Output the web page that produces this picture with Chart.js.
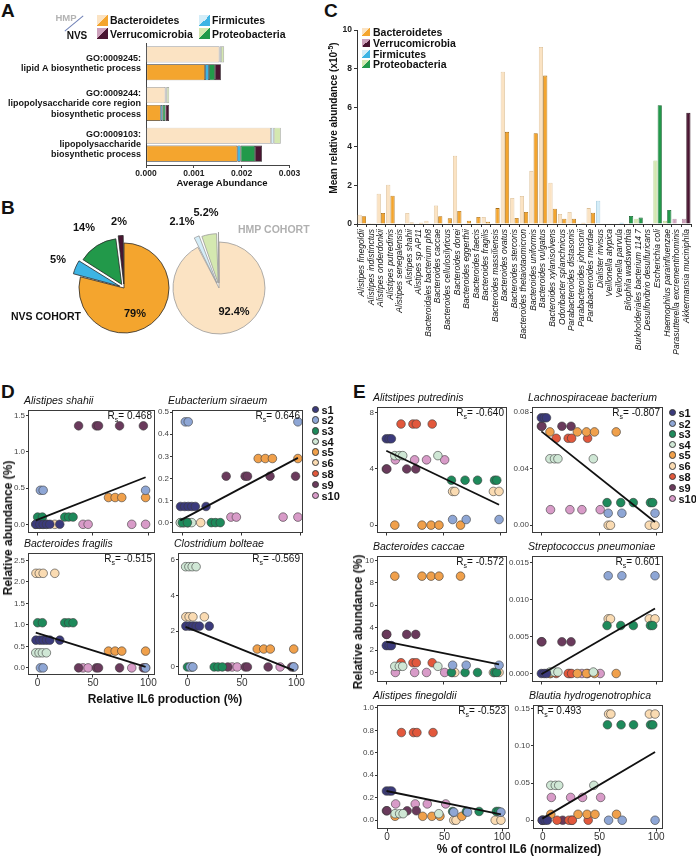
<!DOCTYPE html>
<html><head><meta charset="utf-8">
<script src="https://cdn.jsdelivr.net/npm/chart.js@4.4.1/dist/chart.umd.min.js"></script>
<style>
html,body{margin:0;padding:0;background:#fff;}
#root{position:relative;width:696px;height:856px;overflow:hidden;background:#fff;font-family:"Liberation Sans",Arial,Helvetica,sans-serif;color:#111;}
#root canvas{position:absolute;}
.t{position:absolute;white-space:nowrap;line-height:1;}
.sw{position:absolute;}
</style></head><body><div id="root"></div>
<script>
// ================= DATA =================
// ---- Panel A : GO term abundance (segment sizes, stacked) ----
const goTerms = [["GO:0009245:","lipid A biosynthetic process"],["GO:0009244:","lipopolysaccharide core region","biosynthetic process"],["GO:0009103:","lipopolysaccharide","biosynthetic process"]];
const phyla = ["Bacteroidetes","Firmicutes","Proteobacteria","Verrucomicrobia"];
const hmpBacteroidetes   = [0.001533, 0.000404, 0.002613];
const hmpFirmicutes      = [0.000035, 0.000030, 0.000060];
const hmpProteobacteria  = [0.000063, 0.000050, 0.000146];
const hmpVerrucomicrobia = [0.000004, 0.000003, 0.000005];
const nvsBacteroidetes   = [0.001234, 0.000307, 0.001909];
const nvsFirmicutes      = [0.000083, 0.000040, 0.000070];
const nvsProteobacteria  = [0.000125, 0.000060, 0.000300];
const nvsVerrucomicrobia = [0.000125, 0.000077, 0.000146];
const abundanceTicks = ["0.000","0.001","0.002","0.003"];

// ---- Panel B : phylum shares (%) ----
const nvsShare = [79, 5, 14, 2];
const hmpShare = [92.4, 2.1, 5.2, 0.3];

// ---- Panel C : mean relative abundance (x10^-5) ----
const species = ["Alistipes finegoldii","Alistipes indistinctus","Alistipes onderdonkii","Alistipes putredinis","Alistipes senegalensis","Alistipes shahii","Alistipes sp AP11","Bacteroidales bacterium ph8","Bacteroides caccae","Bacteroides cellulosilyticus","Bacteroides dorei","Bacteroides eggerthii","Bacteroides faecis","Bacteroides fragilis","Bacteroides massiliensis","Bacteroides ovatus","Bacteroides stercoris","Bacteroides thetaiotaomicron","Bacteroides uniformis","Bacteroides vulgatus","Bacteroides xylanisolvens","Odoribacter splanchnicus","Parabacteroides distasonis","Parabacteroides johnsonii","Parabacteroides merdae","Dialister invisus","Veillonella atypica","Veillonella parvula","Bilophila wadsworthia","Burkholderiales bacterium 114 7","Desulfovibrio desulfuricans","Escherichia coli","Haemophilus parainfluenzae","Parasutterella excrementihominis","Akkermansia muciniphila"];
const speciesColorGroup = ["Bacteroidetes","Bacteroidetes","Bacteroidetes","Bacteroidetes","Bacteroidetes","Bacteroidetes","Bacteroidetes","Bacteroidetes","Bacteroidetes","Bacteroidetes","Bacteroidetes","Bacteroidetes","Bacteroidetes","Bacteroidetes","Bacteroidetes","Bacteroidetes","Bacteroidetes","Bacteroidetes","Bacteroidetes","Bacteroidetes","Bacteroidetes","Bacteroidetes","Bacteroidetes","Bacteroidetes","Bacteroidetes","Firmicutes","Firmicutes","Firmicutes","Proteobacteria","Proteobacteria","Proteobacteria","Proteobacteria","Proteobacteria","Verrucomicrobia","Verrucomicrobia"];
const hmpMean = [0.48,0.05,1.56,2.02,0.02,0.57,0.00,0.17,0.96,0.00,3.52,0.00,0.00,0.36,0.00,7.85,1.34,1.44,2.74,9.13,2.13,0.52,0.62,0.00,0.82,1.20,0.00,0.03,0.00,0.27,0.00,3.27,0.17,0.27,0.27];
const nvsMean = [0.40,0.04,0.57,1.46,0.03,0.08,0.07,0.03,0.40,0.29,0.67,0.17,0.36,0.12,0.82,4.75,0.31,0.62,4.68,7.65,0.79,0.27,0.27,0.07,0.58,0.00,0.00,0.07,0.41,0.33,0.00,6.12,0.72,0.00,5.73];
const meanTicks = ["0","2","4","6","8","10"];

// ---- Panels D / E : per-sample points ----
const samples = ["s1","s2","s3","s4","s5","s6","s8","s9","s10"];
const sampleColors = ["#3b3a7c","#8ea6d5","#1e8a5b","#cfe7d5","#f0a04b","#fadbb2","#e2583c","#6a3a5c","#d89bc8"];
const xTicks = ["0","50","100"];
// relative IL6 production (%) for each sample's fractions, panel D
const xD = [[-1.5,2,5,8,11,20],[2.5,5,97.5],[0,4.3,24.5,28,32],[-1.7,1.3,4.3,7.9],[64,70,76,97.5],[-1.5,1.5,5,15.5],[],[37,53,55,74,95.5],[41,45.6,85,97.5]];
// % of control IL6 (normalized), panel E
const xE = [[-0.5,2,4],[58,70,99],[57,69,80,95,97],[7,11,14,45],[7,31,39,46,65],[58,60,94,99],[12.5,23,26,40],[-0.5,0,17.5,25.5],[7.5,24.5,35,51]];
// relative abundance (%) per sample (order of `samples`)
const yShahii     = [0,0.47,0.10,0,0.37,0,null,1.36,0];
const ySiraeum    = [0.073,0.456,0,0,0.29,0,null,0.21,0.025];
const yFragilis   = [0.645,0,1.05,0.35,0.39,2.2,null,0,0];
const yBolteae    = [2.28,0,0,5.6,1.0,2.8,null,0,0];
const yPutredinis = [6.15,0.4,3.2,4.95,0,2.4,7.2,4.0,4.65];
const yLachno     = [0.076,0.0085,0.016,0.047,0.066,0,0.0615,0.07,0.011];
const yCaccae     = [2.4,0.65,0,0.55,8.6,0,0.87,3.4,0];
const yPneumo     = [0,0.01324,0.0065,0.0002,0,0.0074,0,0.0043,0];
const yFinegoldii = [0.26,0.072,0.078,0.058,0.035,0,0.78,0.084,0.145];
const yBlautia    = [0,0,0.1285,0.047,0.008,0.143,0,0,0.0307];
// fitted lines (endpoints)
const fitShahii     = [[-1.7,0.055],[97.5,0.65]];
const fitSiraeum    = [[-1.7,0.01],[97.5,0.293]];
const fitFragilis   = [[-1.7,0.82],[97.5,0.025]];
const fitBolteae    = [[-1.7,2.24],[97.5,-0.19]];
const fitPutredinis = [[-0.5,5.3],[99,1.45]];
const fitLachno     = [[-0.5,0.0664],[99,0.0023]];
const fitCaccae     = [[-0.5,2.76],[99,0.73]];
const fitPneumo     = [[-0.5,-0.0001],[99,0.0088]];
const fitFinegoldii = [[-0.5,0.26],[99,0.052]];
const fitBlautia    = [[-0.5,0.0022],[99,0.092]];
// y tick labels
const tkShahii = ["0.0","0.5","1.0","1.5"];
const tkSiraeum = ["0.0","0.1","0.2","0.3","0.4","0.5"];
const tkFragilis = ["0.0","0.5","1.0","1.5","2.0","2.5"];
const tkBolteae = ["0","2","4","6"];
const tkPutredinis = ["0","4","8"];
const tkLachno = ["0.00","0.04","0.08"];
const tkCaccae = ["0","2","4","6","8","10"];
const tkPneumo = ["0.000","0.005","0.010","0.015"];
const tkFinegoldii = ["0.0","0.2","0.4","0.6","0.8","1.0"];
const tkBlautia = ["0","0.05","0.10","0.15"];

// ================= STYLE =================
const FF = '"Liberation Sans", Arial, Helvetica, sans-serif';
Chart.defaults.font.family = FF;
Chart.defaults.color = '#222';
const dark = {Bacteroidetes:'#f4a52e', Firmicutes:'#3db4e4', Proteobacteria:'#22994a', Verrucomicrobia:'#4a1531'};
const light = {Bacteroidetes:'#fbe3c3', Firmicutes:'#d4edf8', Proteobacteria:'#d4e8b0', Verrucomicrobia:'#cda1bb'};
const darkB = {Bacteroidetes:'#a86d14', Firmicutes:'#1f6790', Proteobacteria:'#125f2c', Verrucomicrobia:'#2a0a1a'};
const lightB = {Bacteroidetes:'#dcbf96', Firmicutes:'#9cc6da', Proteobacteria:'#b2cd8a', Verrucomicrobia:'#b08aa0'};

const root = document.getElementById('root');
function txt(html, x, y, o = {}) {
  const d = document.createElement('div'); d.className = 't'; d.innerHTML = html;
  const a = o.a || 'c'; let tr = '';
  if (a === 'c') tr = 'translate(-50%,-50%)';
  else if (a === 'l') tr = 'translate(0,-50%)';
  else if (a === 'r') tr = 'translate(-100%,-50%)';
  if (o.rot) tr += ' rotate(' + o.rot + 'deg)';
  d.style.left = x + 'px'; d.style.top = y + 'px'; d.style.transform = tr;
  d.style.font = o.font || ('bold 11px ' + FF);
  if (o.color) d.style.color = o.color;
  root.appendChild(d); return d;
}
function box(x, y, w, h, css) { const d = document.createElement('div'); d.className = 'sw'; Object.assign(d.style, {left:x+'px', top:y+'px', width:w+'px', height:h+'px'}, css); root.appendChild(d); return d; }
function makeCanvas(l, t, w, h) { const c = document.createElement('canvas'); c.width = w; c.height = h; c.style.left = l + 'px'; c.style.top = t + 'px'; c.style.width = w + 'px'; c.style.height = h + 'px'; root.appendChild(c); return c; }
function fix(size, isY) { return s => { if (isY) s.width = size; else s.height = size; s.paddingTop = 0; s.paddingBottom = 0; s.paddingLeft = 0; s.paddingRight = 0; }; }
function base(extra) { return Object.assign({responsive:false, maintainAspectRatio:false, animation:false, events:[], devicePixelRatio:1}, extra); }
const boxPlugin = {id:'box', afterDraw(ch, args, opts) { if (!opts || !opts.on) return; const a = ch.chartArea, c = ch.ctx; c.save(); c.strokeStyle = '#3a3a3a'; c.lineWidth = 1; c.strokeRect(Math.round(a.left) + 0.5, Math.round(a.top) + 0.5, Math.round(a.right - a.left) - 1, Math.round(a.bottom - a.top) - 1); c.restore(); }};

// ================= PANEL LETTERS =================
const LF = 'bold 19px ' + FF;
txt('A', 1, 0, {a:'lt', font:LF}); txt('B', 1, 197, {a:'lt', font:LF}); txt('C', 324, 0, {a:'lt', font:LF});
txt('D', 1, 381, {a:'lt', font:LF}); txt('E', 353, 381, {a:'lt', font:LF});

// ================= PANEL A =================
(function(){
  const cv = makeCanvas(0, 0, 300, 200);
  const hmp = [hmpBacteroidetes, hmpFirmicutes, hmpProteobacteria, hmpVerrucomicrobia];
  const nvs = [nvsBacteroidetes, nvsFirmicutes, nvsProteobacteria, nvsVerrucomicrobia];
  const ds = [];
  phyla.forEach((p, i) => ds.push({label:'HMP ' + p, data:hmp[i], stack:'HMP', backgroundColor:light[p], borderColor:'#9b9b9b', borderWidth:0.7, borderSkipped:false, categoryPercentage:0.88, barPercentage:0.9}));
  phyla.forEach((p, i) => ds.push({label:'NVS ' + p, data:nvs[i], stack:'NVS', backgroundColor:dark[p], borderColor:'#2a2a2a', borderWidth:0.7, borderSkipped:false, categoryPercentage:0.88, barPercentage:0.9}));
  const tv = abundanceTicks.map(Number);
  new Chart(cv, {type:'bar', data:{labels:goTerms, datasets:ds}, options: base({
    indexAxis:'y', layout:{padding:{top:43, right:10.5, left:0, bottom:0}},
    plugins:{legend:{display:false}, tooltip:{enabled:false}},
    scales:{
      x:{stacked:true, min:0, max:0.003, afterBuildTicks:s => { s.ticks = tv.map(v => ({value:v})); }, afterFit:fix(35, false),
         grid:{drawOnChartArea:false, drawTicks:true, tickLength:3, color:'#444'}, border:{display:true, color:'#444', width:1},
         ticks:{font:{size:8.5, weight:'bold'}, color:'#222', padding:1, maxRotation:0, callback:(v, i) => abundanceTicks[i]}},
      y:{stacked:true, afterFit:fix(146, true), grid:{display:false, drawTicks:false}, border:{display:true, color:'#444', width:1},
         ticks:{font:{size:9, weight:'bold', lineHeight:1.12}, color:'#151515', padding:5}}
    }})});
  txt('Average Abundance', 222, 182, {font:'bold 9.5px ' + FF});
  // legend
  txt('HMP', 66, 17, {font:'bold 9.5px ' + FF, color:'#b3b3b3'});
  box(62, 23, 24, 1, {background:'#6f80b6', transform:'rotate(-40deg)'});
  txt('NVS', 77, 35, {font:'bold 10px ' + FF});
  const lg = [['Bacteroidetes', 97, 20], ['Verrucomicrobia', 97, 33.5], ['Firmicutes', 199, 20], ['Proteobacteria', 199, 33.5]];
  lg.forEach(([p, x, y]) => {
    box(x, y - 5.5, 11, 11, {background:'linear-gradient(to bottom right,' + light[p] + ' 50%,' + dark[p] + ' 50%)'});
    txt(p, x + 13, y, {a:'l', font:'bold 10.5px ' + FF});
  });
})();

// ================= PANEL B =================
(function(){
  const mk = (cx, cy, r, vals, fills, bc, off) => {
    const cv = makeCanvas(cx - 75, cy - 75, 150, 150);
    new Chart(cv, {type:'pie', data:{labels:phyla, datasets:[{data:vals, backgroundColor:fills, borderColor:bc, borderWidth:0.8, offset:off}]},
      options: base({radius:r, layout:{padding:0}, plugins:{legend:{display:false}, tooltip:{enabled:false}}})});
  };
  mk(124, 288, 45, nvsShare, phyla.map(p => dark[p]), '#2a2a2a', [0, 18, 17, 16]);
  mk(219, 288, 46, hmpShare, phyla.map(p => light[p]), '#9a9a9a', [0, 21, 20, 20]);
  const f = 'bold 11px ' + FF;
  txt('14%', 84, 227, {font:f}); txt('2%', 119, 221, {font:f}); txt('5%', 58, 259, {font:f});
  txt('79%', 135, 313, {font:f}); txt('NVS COHORT', 46, 316, {font:'bold 10.5px ' + FF});
  txt('2.1%', 182, 221, {font:f}); txt('5.2%', 206, 212, {font:f});
  txt('92.4%', 234, 311, {font:f}); txt('HMP COHORT', 238, 229, {a:'l', font:'bold 10.5px ' + FF, color:'#b0b0b0'});
})();

// ================= PANEL C =================
(function(){
  const cv = makeCanvas(300, 0, 396, 380);
  const tv = meanTicks.map(Number);
  new Chart(cv, {type:'bar', data:{labels:species, datasets:[
      {label:'HMP', data:hmpMean, backgroundColor:speciesColorGroup.map(g => light[g]), borderColor:speciesColorGroup.map(g => lightB[g]), borderWidth:0.8, borderSkipped:'bottom', categoryPercentage:0.9, barPercentage:0.98},
      {label:'NVS', data:nvsMean, backgroundColor:speciesColorGroup.map(g => dark[g]), borderColor:speciesColorGroup.map(g => darkB[g]), borderWidth:0.8, borderSkipped:'bottom', categoryPercentage:0.9, barPercentage:0.98}]},
    options: base({layout:{padding:{top:30, right:5, left:0, bottom:0}}, plugins:{legend:{display:false}, tooltip:{enabled:false}},
      scales:{
        x:{afterFit:fix(156, false), grid:{drawOnChartArea:false, drawTicks:true, tickLength:3, color:'#333'}, border:{display:true, color:'#333', width:1},
           ticks:{autoSkip:false, minRotation:90, maxRotation:90, font:{size:8.5, style:'italic'}, color:'#111', padding:2}},
        y:{min:0, max:10, afterBuildTicks:s => { s.ticks = tv.map(v => ({value:v})); }, afterFit:fix(57, true),
           grid:{drawOnChartArea:false, drawTicks:true, tickLength:3, color:'#333'}, border:{display:true, color:'#333', width:1},
           ticks:{font:{size:8.5, weight:'bold'}, color:'#222', padding:2, callback:(v, i) => meanTicks[i]}}
      }})});
  txt('Mean relative abundance (x10<span style="font-size:7px;position:relative;top:-4px">-5</span>)', 333, 118, {rot:-90, font:'bold 10px ' + FF});
  const lg = [['Bacteroidetes', 32], ['Verrucomicrobia', 43], ['Firmicutes', 53.5], ['Proteobacteria', 64]];
  lg.forEach(([p, y]) => {
    box(362, y - 4, 8, 8, {background:'linear-gradient(to bottom right,' + light[p] + ' 50%,' + dark[p] + ' 50%)'});
    txt(p, 373, y, {a:'l', font:'bold 10.5px ' + FF});
  });
})();

// ================= PANELS D / E =================
function scatterPanel(p) {
  const [L, T, R, B] = p.box;
  const yW = 34, pt = 2, pr = 12, xH = p.xl ? 18 : 6;
  const cv = makeCanvas(L - yW, T - pt, (R - L) + yW + pr, (B - T) + pt + xH);
  const ds = [{data:p.fit.map(([x, y]) => ({x, y})), showLine:true, borderColor:'#111', borderWidth:1.8, pointRadius:0}];
  samples.forEach((s, i) => {
    if (p.ys[i] === null || !p.xs[i].length) return;
    ds.push({data:p.xs[i].map(x => ({x, y:p.ys[i]})), showLine:false, pointRadius:4.3, pointBackgroundColor:sampleColors[i], pointBorderColor:'#3a3a3a', pointBorderWidth:0.6});
  });
  const yv = p.tk.map(Number), xv = xTicks.map(Number);
  new Chart(cv, {type:'scatter', data:{datasets:ds}, plugins:[boxPlugin], options: base({
    layout:{padding:{top:pt, right:pr, left:0, bottom:0}},
    plugins:{legend:{display:false}, tooltip:{enabled:false}, box:{on:true}},
    scales:{
      x:{type:'linear', min:p.xr[0], max:p.xr[1], afterBuildTicks:s => { s.ticks = xv.map(v => ({value:v})); }, afterFit:fix(xH, false),
         grid:{drawOnChartArea:false, drawTicks:true, tickLength:2.5, color:'#333'}, border:{display:false},
         ticks:{font:{size:10}, color:'#333', padding:0, maxRotation:0, callback:(v, i) => p.xl ? xTicks[i] : ''}},
      y:{min:p.yr[0], max:p.yr[1], afterBuildTicks:s => { s.ticks = yv.map(v => ({value:v})); }, afterFit:fix(yW, true),
         grid:{drawOnChartArea:false, drawTicks:true, tickLength:2, color:'#333'}, border:{display:false},
         ticks:{font:{size:8}, color:'#444', padding:1, callback:(v, i) => p.tk[i]}}
    }})});
  txt(p.title, L - 4, T - 7, {a:'l', font:'italic 10.5px ' + FF});
  const rs = 'R<span style="font-size:7px;position:relative;top:3px">s</span>= ' + p.rs;
  if (p.rsLeft) txt(rs, L + 4, T + 8, {a:'l', font:'10px ' + FF});
  else txt(rs, R - 3, T + 8, {a:'r', font:'10px ' + FF});
}
const DX = [-8.7, 106];
const panels = [
  {title:'Alistipes shahii', rs:'0.468', box:[28,407,155,533], yr:[-0.12,1.58], tk:tkShahii, ys:yShahii, fit:fitShahii, xs:xD, xr:DX, xl:false},
  {title:'Eubacterium siraeum', rs:'0.646', box:[172,407,303,533], yr:[-0.047,0.51], tk:tkSiraeum, ys:ySiraeum, fit:fitSiraeum, xs:xD, xr:[-8.7,101.8], xl:false},
  {title:'Bacteroides fragilis', rs:'-0.515', box:[28,550,155,675], yr:[-0.166,2.675], tk:tkFragilis, ys:yFragilis, fit:fitFragilis, xs:xD, xr:DX, xl:true},
  {title:'Clostridium bolteae', rs:'-0.569', box:[178,550,303,675], yr:[-0.45,6.37], tk:tkBolteae, ys:yBolteae, fit:fitBolteae, xs:xD, xr:DX, xl:true},
  {title:'Alitstipes putredinis', rs:'-0.640', box:[377,404,507,533], yr:[-0.56,8.42], tk:tkPutredinis, ys:yPutredinis, fit:fitPutredinis, xs:xE, xr:DX, xl:false},
  {title:'Lachnospiraceae bacterium', rs:'-0.807', box:[532,404,663,533], yr:[-0.0055,0.0837], tk:tkLachno, ys:yLachno, fit:fitLachno, xs:xE, xr:DX, xl:false},
  {title:'Bacteroides caccae', rs:'-0.572', box:[377,553,507,682], yr:[-0.85,10.41], tk:tkCaccae, ys:yCaccae, fit:fitCaccae, xs:xE, xr:DX, xl:false},
  {title:'Streptococcus pneumoniae', rs:'0.601', box:[532,553,663,682], yr:[-0.00115,0.01593], tk:tkPneumo, ys:yPneumo, fit:fitPneumo, xs:xE, xr:DX, xl:false},
  {title:'Alistipes finegoldii', rs:'-0.523', box:[377,702,509,829], yr:[-0.078,1.026], tk:tkFinegoldii, ys:yFinegoldii, fit:fitFinegoldii, xs:xE, xr:DX, xl:true},
  {title:'Blautia hydrogenotrophica', rs:'0.493', box:[533,702,663,829], yr:[-0.0118,0.1553], tk:tkBlautia, ys:yBlautia, fit:fitBlautia, xs:xE, xr:DX, xl:true, rsLeft:true}
];
panels.forEach(scatterPanel);

// sample legends
function sampleLegend(dx, tx, ys) {
  samples.forEach((s, i) => {
    box(dx - 3.8, ys[i] - 3.8, 7.6, 7.6, {background:sampleColors[i], border:'0.6px solid #3a3a3a', borderRadius:'50%', boxSizing:'border-box'});
    txt(s, tx, ys[i], {a:'l', font:'bold 11px ' + FF});
  });
}
sampleLegend(315.5, 321.5, [409.5,420,431,441.5,452,462.5,473.5,484.5,495.5]);
sampleLegend(672.5, 678.5, [412.5,423.5,434,444.5,455,466,476.5,487.5,498.5]);

// axis titles D / E
txt('Relative abundance (%)', 8, 528, {rot:-90, font:'bold 12px ' + FF});
txt('Relative IL6 production (%)', 165, 699, {font:'bold 12px ' + FF});
txt('Relative abundance (%)', 358, 622, {rot:-90, font:'bold 12px ' + FF});
txt('% of control IL6 (normalized)', 519, 849, {font:'bold 12px ' + FF});
</script></body></html>
